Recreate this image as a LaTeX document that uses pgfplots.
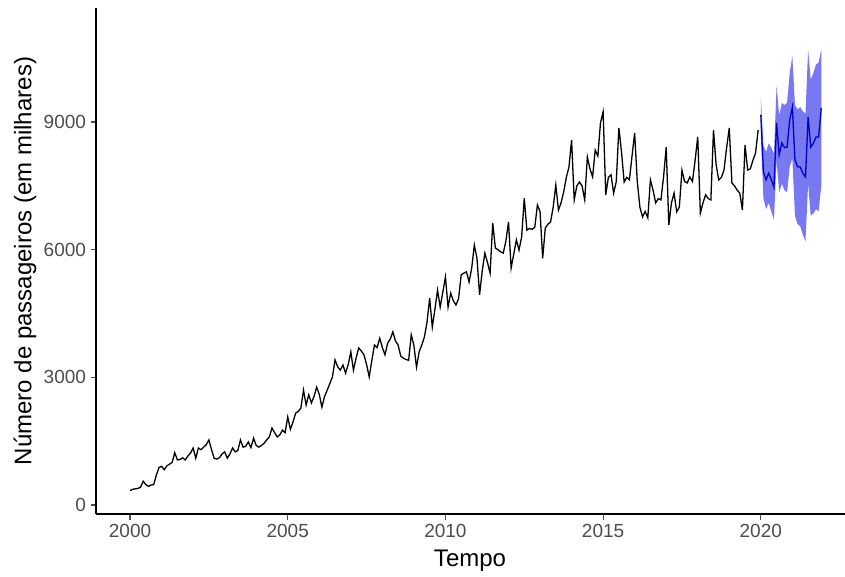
\documentclass[border=0pt]{standalone}
\usepackage{pgfplots}
\pgfplotsset{compat=1.18}
\usepackage{pgfplotstable}
\usepackage{fontspec}
\setmainfont{Liberation Sans}

\definecolor{tickgray}{HTML}{4D4D4D}
\definecolor{fcline}{RGB}{0,0,200}
\definecolor{fcband}{RGB}{120,120,240}

% monthly passengers (thousands), Jan 2000 - Dec 2019, twelve values per line
\pgfplotstableread[row sep=\\]{
y\\
340\\ 370\\ 380\\ 390\\ 420\\ 560\\ 480\\ 440\\ 470\\ 480\\ 700\\ 880\\
910\\ 830\\ 920\\ 960\\ 1000\\ 1230\\ 1060\\ 1070\\ 1110\\ 1060\\ 1150\\ 1220\\
1340\\ 1100\\ 1340\\ 1300\\ 1360\\ 1420\\ 1530\\ 1300\\ 1100\\ 1080\\ 1110\\ 1200\\
1250\\ 1100\\ 1200\\ 1340\\ 1250\\ 1280\\ 1530\\ 1360\\ 1380\\ 1480\\ 1350\\ 1570\\
1400\\ 1360\\ 1400\\ 1450\\ 1530\\ 1600\\ 1810\\ 1700\\ 1600\\ 1650\\ 1760\\ 1700\\
2070\\ 1780\\ 1950\\ 2160\\ 2200\\ 2280\\ 2700\\ 2350\\ 2590\\ 2400\\ 2550\\ 2770\\
2600\\ 2300\\ 2550\\ 2700\\ 2850\\ 3010\\ 3410\\ 3250\\ 3170\\ 3290\\ 3100\\ 3300\\
3600\\ 3170\\ 3450\\ 3690\\ 3620\\ 3530\\ 3300\\ 3010\\ 3400\\ 3760\\ 3700\\ 3920\\
3700\\ 3530\\ 3800\\ 3900\\ 4070\\ 3850\\ 3760\\ 3500\\ 3450\\ 3420\\ 3400\\ 4000\\
3750\\ 3240\\ 3600\\ 3760\\ 3950\\ 4300\\ 4860\\ 4180\\ 4600\\ 5050\\ 4650\\ 5000\\
5360\\ 4650\\ 4980\\ 4800\\ 4700\\ 4850\\ 5410\\ 5450\\ 5480\\ 5240\\ 5570\\ 6110\\
5800\\ 4940\\ 5500\\ 5920\\ 5700\\ 5450\\ 6630\\ 6040\\ 6000\\ 5950\\ 5920\\ 6200\\
6650\\ 5570\\ 5900\\ 6230\\ 5990\\ 6300\\ 7210\\ 6460\\ 6500\\ 6480\\ 6530\\ 7050\\
6900\\ 5800\\ 6510\\ 6600\\ 6650\\ 7000\\ 7520\\ 6930\\ 7100\\ 7360\\ 7700\\ 7940\\
8580\\ 7170\\ 7500\\ 7590\\ 7500\\ 7170\\ 8180\\ 7900\\ 7710\\ 8340\\ 8200\\ 8980\\
9240\\ 7290\\ 7700\\ 7760\\ 7330\\ 7600\\ 8860\\ 8300\\ 7590\\ 7700\\ 7640\\ 8200\\
8740\\ 7600\\ 7000\\ 6770\\ 6900\\ 6750\\ 7640\\ 7400\\ 7100\\ 7200\\ 7170\\ 7710\\
8410\\ 6580\\ 7100\\ 7330\\ 6890\\ 7000\\ 7870\\ 7600\\ 7570\\ 7710\\ 7600\\ 8100\\
8650\\ 6860\\ 7100\\ 7290\\ 7200\\ 7170\\ 8810\\ 8000\\ 7640\\ 7700\\ 7870\\ 8400\\
8860\\ 7570\\ 7500\\ 7400\\ 7330\\ 6930\\ 8460\\ 7870\\ 7900\\ 8100\\ 8270\\ 8810\\
}\hist

% point forecast 2020-2021
\pgfplotstableread{
t        mean
2020.000 9170
2020.083 7830
2020.167 7640
2020.250 7800
2020.333 7650
2020.417 7470
2020.500 8980
2020.583 8230
2020.667 8510
2020.750 8400
2020.833 8410
2020.917 9050
2021.000 9350
2021.083 8110
2021.167 7950
2021.250 7940
2021.333 7800
2021.417 7710
2021.500 9120
2021.583 8410
2021.667 8500
2021.750 8650
2021.833 8650
2021.917 9330
}\fc

% prediction band outline: upper bound forward, lower bound backward
\pgfplotstableread{
t        v
2020.000 9600
2020.083 8450
2020.167 8300
2020.250 8500
2020.333 8400
2020.417 8250
2020.500 9850
2020.583 9150
2020.667 9450
2020.750 9400
2020.833 9450
2020.917 10150
2021.000 10550
2021.083 9400
2021.167 9300
2021.250 9350
2021.333 9250
2021.417 9200
2021.500 10700
2021.583 10000
2021.667 10150
2021.750 10350
2021.833 10400
2021.917 10700
2021.917 7500
2021.833 6900
2021.750 6950
2021.667 6850
2021.583 6800
2021.500 7550
2021.417 6200
2021.333 6350
2021.250 6550
2021.167 6600
2021.083 6800
2021.000 8150
2020.917 7950
2020.833 7350
2020.750 7400
2020.667 7550
2020.583 7350
2020.500 8100
2020.417 6700
2020.333 6900
2020.250 7100
2020.167 6950
2020.083 7200
2020.000 8700
}\band

\begin{document}
\begin{tikzpicture}
\useasboundingbox (-96pt,-62pt) rectangle (749pt,514pt);
\begin{axis}[
  at={(0pt,0pt)}, anchor=south west,
  scale only axis, width=749pt, height=506pt,
  xmin=1998.92, xmax=2022.67, ymin=-211, ymax=11680,
  axis x line*=bottom, axis y line*=left,
  axis line style={-, black, line width=1.6pt},
  xtick={2000,2005,2010,2015,2020},
  ytick={0,3000,6000,9000},
  scaled y ticks=false, scaled x ticks=false,
  tick pos=left, tick align=outside,
  major tick length=5.5pt,
  tick style={tickgray, line width=1.2pt},
  /pgf/number format/assume math mode=true,
  /pgf/number format/1000 sep={},
  ticklabel style={font=\fontsize{19}{19}\selectfont, text=tickgray},
  xticklabel style={yshift=-1pt},
  yticklabel style={xshift=-1pt},
]
\addplot[fill=fcband, draw=none] table[x=t, y=v]{\band} -- cycle;
\addplot[black, line width=1.3pt] table[x expr=2000+\coordindex/12, y=y]{\hist};
\addplot[fcline, line width=1.3pt] table[x=t, y=mean]{\fc};
\end{axis}
\node[font=\fontsize{24}{24}\selectfont] at (374pt,-47pt) {Tempo};
\node[font=\fontsize{24}{24}\selectfont, rotate=90] at (-71pt,253pt) {Número de passageiros (em milhares)};
\end{tikzpicture}
\end{document}
